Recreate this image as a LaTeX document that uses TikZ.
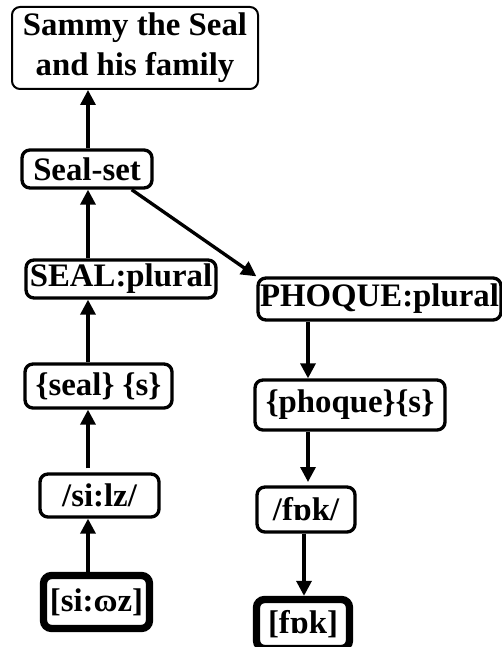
\documentclass[tikz,border=0pt]{standalone}
\usepackage{fontspec}
\setmainfont{Liberation Serif}
\usetikzlibrary{arrows.meta,positioning}

\begin{document}
\begin{tikzpicture}[
  every node/.style={font=\fontsize{28}{34}\selectfont\bfseries,align=center,inner sep=0pt},
  box/.style={draw,rounded corners=0.24cm,line width=0.1cm},
  thickbox/.style={box,line width=0.22cm},
  arr/.style={-{Triangle[length=0.45cm,width=0.45cm]},line width=0.1cm}
]
\useasboundingbox (0,0) rectangle (15.03,-19.41);

% ============================================================
% LEFT: seal column
% ============================================================

\node[box,line width=0.06cm,minimum width=7.38cm,minimum height=2.46cm] (sammy) at (4.05,-1.44) {Sammy the Seal\\and his family};
\node[box,minimum width=3.9cm,minimum height=1.14cm] (sealset) at (2.61,-5.07) {Seal-set};
\node[box,minimum width=5.7cm,minimum height=1.14cm] (sealpl) at (3.63,-8.37) {SEAL:plural};
\node[box,minimum width=4.41cm,minimum height=1.32cm] (sealmorph) at (2.955,-11.58) {\{seal\} \{s\}};
\node[box,minimum width=3.57cm,minimum height=1.29cm] (sealphon) at (2.985,-14.865) {/si:lz/};
\node[thickbox,minimum width=3.18cm,minimum height=1.59cm] (sealphonet) at (2.895,-18.06) {[si:ɷz]};

\coordinate (lcol) at (2.64,0);

\draw[arr] (sealphonet.north -| lcol) -- (sealphon.south -| lcol);
\draw[arr] ([yshift=0.12cm]sealphon.north -| lcol) -- (sealmorph.south -| lcol);
\draw[arr] (sealmorph.north -| lcol) -- (sealpl.south -| lcol);
\draw[arr] (sealpl.north -| lcol) -- (sealset.south -| lcol);
\draw[arr] (sealset.north -| lcol) -- (sammy.south -| lcol);

% ============================================================
% RIGHT: phoque column
% ============================================================

\node[box,minimum width=7.29cm,minimum height=1.26cm] (phoquepl) at (11.385,-8.97) {PHOQUE:plural};
\node[box,minimum width=5.7cm,minimum height=1.5cm] (phoquemorph) at (10.5,-12.15) {\{phoque\}\{s\}};
\node[box,minimum width=2.94cm,minimum height=1.35cm] (fokphon) at (9.18,-15.285) {/fɒk/};
\node[thickbox,minimum width=2.79cm,minimum height=1.47cm] (fokphonet) at (9.09,-18.72) {[fɒk]};

\coordinate (rcol) at (9.24,0);

\draw[arr] ([xshift=-0.66cm]sealset.south east) -- (phoquepl.north west);
\draw[arr] (phoquepl.south -| rcol) -- (phoquemorph.north -| rcol);
\draw[arr] (phoquemorph.south -| rcol) -- ([yshift=0.1cm]fokphon.north -| rcol);
\draw[arr] ([xshift=-0.12cm]fokphon.south -| rcol) -- ([xshift=-0.12cm]fokphonet.north -| rcol);

\end{tikzpicture}
\end{document}
